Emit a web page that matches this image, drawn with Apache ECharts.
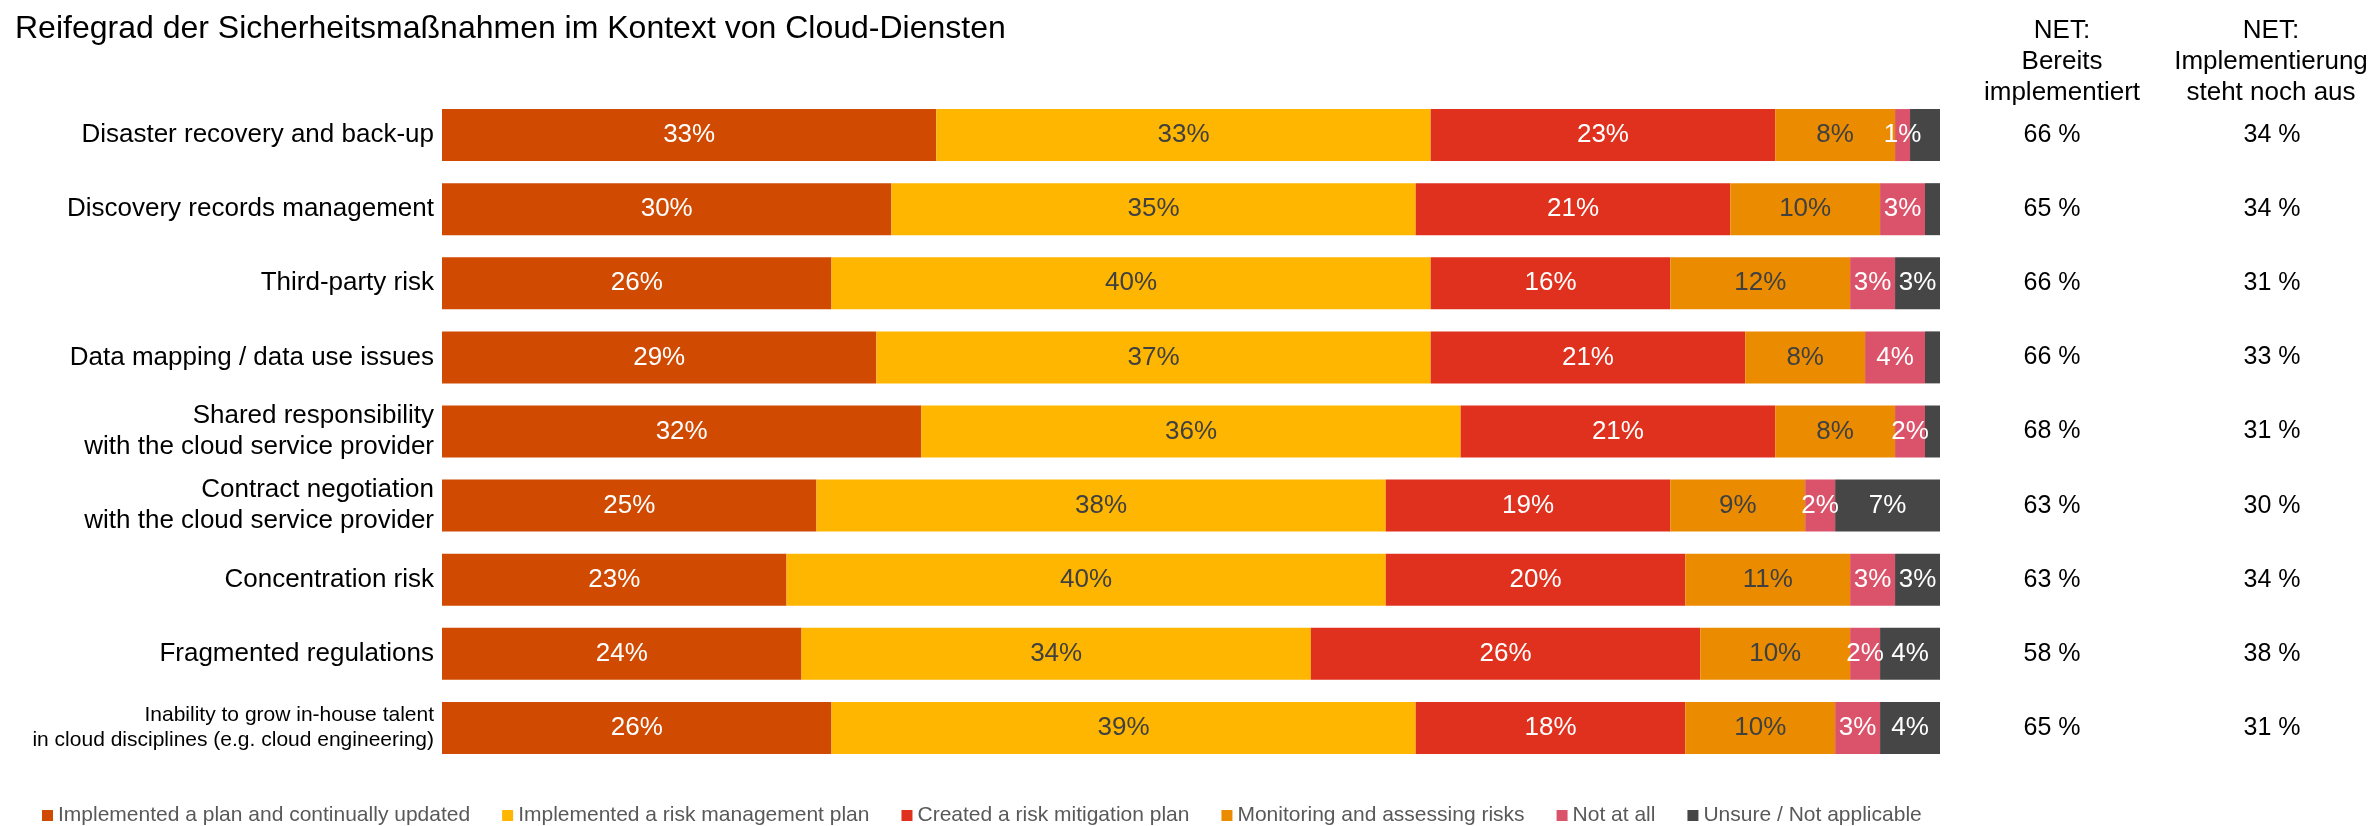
<!DOCTYPE html>
<html>
<head>
<meta charset="utf-8">
<script src="https://cdn.jsdelivr.net/npm/echarts@6/dist/echarts.min.js"></script>
<style>
  html, body { margin: 0; padding: 0; background: #ffffff; }
  #chart { width: 2377px; height: 826px; }
</style>
</head>
<body>
<div id="chart"></div>
<script>
// ---- data ----
const titleText = 'Reifegrad der Sicherheitsmaßnahmen im Kontext von Cloud-Diensten';
const categories = [
  'Disaster recovery and back-up',
  'Discovery records management',
  'Third-party risk',
  'Data mapping / data use issues',
  'Shared responsibility\nwith the cloud service provider',
  'Contract negotiation\nwith the cloud service provider',
  'Concentration risk',
  'Fragmented regulations',
  'Inability to grow in-house talent\nin cloud disciplines (e.g. cloud engineering)'
];
const seriesNames = [
  'Implemented a plan and continually updated',
  'Implemented a risk management plan',
  'Created a risk mitigation plan',
  'Monitoring and assessing risks',
  'Not at all',
  'Unsure / Not applicable'
];
const implementedContinually = [33, 30, 26, 29, 32, 25, 23, 24, 26];
const implementedRiskPlan    = [33, 35, 40, 37, 36, 38, 40, 34, 39];
const createdMitigation      = [23, 21, 16, 21, 21, 19, 20, 26, 18];
const monitoring             = [8, 10, 12, 8, 8, 9, 11, 10, 10];
const notAtAll               = [1, 3, 3, 4, 2, 2, 3, 2, 3];
const unsure                 = [2, 1, 3, 1, 1, 7, 3, 4, 4];
const netHeader1 = 'NET:\nBereits\nimplementiert';
const netHeader2 = 'NET:\nImplementierung\nsteht noch aus';
const netImplemented = [66, 65, 66, 66, 68, 63, 63, 58, 65];
const netPending     = [34, 34, 31, 33, 31, 30, 34, 38, 31];

// ---- styles ----
const FONT = '"Liberation Sans", Arial, Helvetica, sans-serif';
const colors = ['#D04A02', '#FFB600', '#E0301E', '#EB8C00', '#DB536A', '#464646'];
const labelColors = ['#ffffff', '#404040', '#ffffff', '#404040', '#ffffff', '#ffffff'];
const minLabel = [0, 0, 0, 0, 0, 3];
const seriesValues = [implementedContinually, implementedRiskPlan, createdMitigation, monitoring, notAtAll, unsure];

const chart = echarts.init(document.getElementById('chart'), null, { renderer: 'canvas' });

const series = seriesValues.map((vals, si) => ({
  name: seriesNames[si],
  type: 'bar',
  stack: 'total',
  yAxisIndex: 0,
  barWidth: 52,
  data: vals,
  itemStyle: { color: colors[si] },
  label: {
    show: true,
    position: 'inside',
    fontFamily: FONT,
    fontSize: 26,
    color: labelColors[si],
    formatter: p => (p.value >= minLabel[si] ? p.value + '%' : '')
  },
  emphasis: { disabled: true }
}));

function catAxisBase() {
  return {
    type: 'category',
    data: categories,
    inverse: true,
    axisLine: { show: false },
    axisTick: { show: false },
    splitLine: { show: false }
  };
}

const option = {
  animation: false,
  backgroundColor: '#ffffff',
  textStyle: { fontFamily: FONT },
  title: {
    text: titleText,
    left: 10,
    top: 8,
    textStyle: { fontFamily: FONT, fontSize: 32, fontWeight: 'normal', color: '#000000' }
  },
  legend: {
    data: seriesNames,
    left: 37,
    top: 800,
    icon: 'rect',
    itemWidth: 11,
    itemHeight: 11,
    itemGap: 32,
    textStyle: { fontFamily: FONT, fontSize: 21, color: '#595959' },
    selectedMode: false
  },
  grid: { left: 442, right: 437, top: 98, bottom: 61, containLabel: false },
  xAxis: {
    type: 'value',
    min: 0,
    max: 100,
    show: false
  },
  yAxis: [
    Object.assign(catAxisBase(), {
      position: 'left',
      axisLabel: {
        margin: 8,
        fontFamily: FONT,
        fontSize: 26,
        lineHeight: 31,
        color: '#000000',
        align: 'right',
        formatter: (v, i) => i === categories.length - 1
          ? v.split('\n').map(s => '{s|' + s + '}').join('\n')
          : v,
        rich: { s: { fontFamily: FONT, fontSize: 21, lineHeight: 25, color: '#000000' } }
      }
    }),
    Object.assign(catAxisBase(), {
      position: 'right',
      axisLabel: {
        margin: 112,
        align: 'center',
        fontFamily: FONT,
        fontSize: 25,
        color: '#000000',
        formatter: (v, i) => netImplemented[i] + ' %'
      }
    }),
    Object.assign(catAxisBase(), {
      position: 'right',
      axisLabel: {
        margin: 332,
        align: 'center',
        fontFamily: FONT,
        fontSize: 25,
        color: '#000000',
        formatter: (v, i) => netPending[i] + ' %'
      }
    })
  ],
  graphic: [
    {
      type: 'text',
      x: 2062,
      y: 62,
      style: {
        text: netHeader1,
        align: 'center',
        verticalAlign: 'middle',
        font: '26px ' + FONT,
        lineHeight: 31,
        fill: '#000000'
      }
    },
    {
      type: 'text',
      x: 2271,
      y: 62,
      style: {
        text: netHeader2,
        align: 'center',
        verticalAlign: 'middle',
        font: '26px ' + FONT,
        lineHeight: 31,
        fill: '#000000'
      }
    }
  ],
  series: series
};

chart.setOption(option);
</script>
</body>
</html>
